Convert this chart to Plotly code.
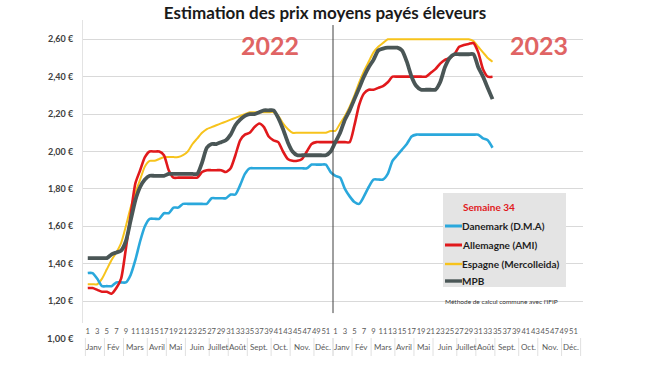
import plotly.graph_objects as go

# ---------------- data ----------------
semaines = list(range(1, 53))          # weeks of a year
mois = ["Janv", "Fév", "Mars", "Avril", "Mai", "Juin", "Juillet", "Août",
        "Sept.", "Oct.", "Nov.", "Déc."]
mois_premiere_semaine = [1, 5, 9, 14, 18, 22, 27, 31, 35, 40, 44, 49]
annees = ["2022", "2023"]

danemark_2022 = [1.35, 1.35, 1.32, 1.28, 1.28, 1.28, 1.30, 1.30, 1.30, 1.34,
                 1.42, 1.52, 1.60, 1.64, 1.64, 1.64, 1.67, 1.67, 1.70, 1.70,
                 1.72, 1.72, 1.72, 1.72, 1.72, 1.72, 1.75, 1.75, 1.75, 1.75,
                 1.77, 1.77, 1.82, 1.88, 1.91, 1.91, 1.91, 1.91, 1.91, 1.91,
                 1.91, 1.91, 1.91, 1.91, 1.91, 1.91, 1.91, 1.93, 1.93, 1.93,
                 1.93, 1.89]
danemark_2023 = [1.87, 1.86, 1.80, 1.76, 1.73, 1.72, 1.76, 1.81, 1.85, 1.85,
                 1.85, 1.88, 1.95, 1.98, 2.01, 2.04, 2.08, 2.09, 2.09, 2.09,
                 2.09, 2.09, 2.09, 2.09, 2.09, 2.09, 2.09, 2.09, 2.09, 2.09,
                 2.09, 2.07, 2.06, 2.02]

allemagne_2022 = [1.27, 1.27, 1.26, 1.25, 1.25, 1.24, 1.27, 1.32, 1.48, 1.66,
                  1.83, 1.90, 1.97, 2.00, 2.00, 2.00, 1.98, 1.90, 1.86, 1.86,
                  1.86, 1.86, 1.86, 1.86, 1.89, 1.90, 1.90, 1.90, 1.90, 1.89,
                  1.91, 1.98, 2.06, 2.09, 2.10, 2.13, 2.15, 2.13, 2.08, 2.06,
                  2.05, 2.00, 1.96, 1.95, 1.95, 1.96, 2.00, 2.04, 2.05, 2.05,
                  2.05, 2.05]
allemagne_2023 = [2.05, 2.05, 2.05, 2.05, 2.14, 2.25, 2.31, 2.33, 2.33, 2.34,
                  2.35, 2.37, 2.40, 2.40, 2.40, 2.40, 2.40, 2.40, 2.40, 2.40,
                  2.42, 2.44, 2.47, 2.49, 2.50, 2.52, 2.56, 2.57, 2.575, 2.58,
                  2.53, 2.44, 2.40, 2.40]

espagne_2022 = [1.29, 1.29, 1.29, 1.32, 1.37, 1.42, 1.46, 1.51, 1.60, 1.70,
                1.78, 1.85, 1.92, 1.95, 1.95, 1.96, 1.97, 1.97, 1.97, 1.97,
                1.98, 2.00, 2.04, 2.07, 2.10, 2.12, 2.13, 2.14, 2.15, 2.16,
                2.17, 2.18, 2.19, 2.20, 2.21, 2.21, 2.21, 2.21, 2.21, 2.21,
                2.19, 2.15, 2.12, 2.10, 2.10, 2.10, 2.10, 2.10, 2.10, 2.10,
                2.10, 2.11]
espagne_2023 = [2.11, 2.15, 2.19, 2.24, 2.30, 2.37, 2.43, 2.48, 2.53, 2.56,
                2.58, 2.60, 2.60, 2.60, 2.60, 2.60, 2.60, 2.60, 2.60, 2.60,
                2.60, 2.60, 2.60, 2.60, 2.60, 2.60, 2.60, 2.60, 2.60, 2.59,
                2.56, 2.53, 2.50, 2.48]

mpb_2022 = [1.43, 1.43, 1.43, 1.43, 1.43, 1.45, 1.46, 1.47, 1.52, 1.63,
            1.74, 1.81, 1.85, 1.87, 1.87, 1.87, 1.87, 1.88, 1.88, 1.88,
            1.88, 1.88, 1.88, 1.88, 1.94, 2.02, 2.04, 2.04, 2.05, 2.06,
            2.09, 2.14, 2.17, 2.19, 2.20, 2.20, 2.21, 2.22, 2.22, 2.22,
            2.18, 2.12, 2.05, 2.00, 1.98, 1.98, 1.98, 1.98, 1.98, 1.98,
            1.98, 2.00]
mpb_2023 = [2.05, 2.10, 2.17, 2.22, 2.28, 2.34, 2.40, 2.45, 2.49, 2.54,
            2.55, 2.555, 2.555, 2.555, 2.54, 2.48, 2.40, 2.35, 2.33, 2.33,
            2.33, 2.33, 2.37, 2.45, 2.50, 2.52, 2.52, 2.52, 2.52, 2.52,
            2.45, 2.40, 2.34, 2.28]

y_ticks = [1.20, 1.40, 1.60, 1.80, 2.00, 2.20, 2.40, 2.60]
legende_titre = "Semaine 34"

# ---------------- build ----------------
n_sem = len(semaines)
# (name, values, colour, width, legend row)
series = [
    ("Espagne (Mercolleida)", espagne_2022 + espagne_2023, "#f7c31c", 2.0, 2),
    ("Danemark (D.M.A)", danemark_2022 + danemark_2023, "#2aa8dc", 2.6, 0),
    ("Allemagne (AMI)", allemagne_2022 + allemagne_2023, "#e1191c", 2.6, 1),
    ("MPB", mpb_2022 + mpb_2023, "#4a5656", 3.8, 3),
]

W, H = 650, 366
L, R, T, B = 83, 67, 20, 43
PW, PH = W - L - R, H - T - B


def px(xp):   # pixel x -> paper
    return (xp - L) / PW


def py(yp):   # pixel y -> paper
    return (H - B - yp) / PH


fig = go.Figure()
for name, vals, color, width, row in series:
    fig.add_trace(go.Scatter(
        x=list(range(1, len(vals) + 1)), y=vals, name=name, mode="lines",
        line=dict(color=color, width=width, shape="spline", smoothing=0.6),
        showlegend=False, hoverinfo="skip"))

total = 2 * n_sem
tickvals, ticktext = [], []
for k in range(total):
    wk = semaines[k % n_sem]
    if wk % 2 == 1:
        tickvals.append(k + 1)
        ticktext.append(str(wk))

ytext = [("%.2f" % v).replace(".", ",") + " €" for v in y_ticks]

fig.update_layout(
    width=W, height=H,
    margin=dict(l=L, r=R, t=T, b=B),
    paper_bgcolor="white", plot_bgcolor="white",
    font=dict(family="Lato", color="#404040"),
    title=dict(text="Estimation des prix moyens payés éleveurs",
               x=0.5, xanchor="center", y=1 - 13 / H, yanchor="middle",
               font=dict(size=17, color="#1a1a1a", family="Lato", weight="bold")),
    xaxis=dict(range=[0, 105], showgrid=False, zeroline=False,
               tickvals=tickvals, ticktext=ticktext, tickangle=0,
               tickfont=dict(size=7.6, color="#595959"), ticks="",
               ticklabelstandoff=2, showline=False),
    yaxis=dict(range=[1.083, 2.703], tickvals=y_ticks, ticktext=ytext,
               showgrid=True, gridcolor="#d9d9d9", gridwidth=1, zeroline=False,
               tickfont=dict(size=9, color="#404040", weight="bold"),
               ticks="", ticklabelstandoff=7,
               showline=True, linecolor="#e3e3e3", linewidth=1),
    showlegend=False,
)

# separation line between the two years
fig.add_shape(type="line", xref="x", yref="y", x0=n_sem + 0.5, x1=n_sem + 0.5,
              y0=1.136, y1=2.676, line=dict(color="#404040", width=1))

# year labels
for xi, yr in zip([39.3, 95.8], annees):
    fig.add_annotation(xref="x", yref="paper", x=xi, y=py(45),
                       text="<b>%s</b>" % yr, showarrow=False,
                       font=dict(size=25, color="#e06464", family="Lato"),
                       xanchor="center", yanchor="middle")

# month labels & separators
bounds = mois_premiere_semaine + [n_sem + 1]
for yi in range(2):
    off = yi * n_sem
    for m, lab in enumerate(mois):
        a, b = bounds[m] - 0.5 + off, bounds[m + 1] - 0.5 + off
        fig.add_annotation(xref="x", yref="paper", x=(a + b) / 2,
                           y=py(347), text=lab, showarrow=False,
                           font=dict(size=8, color="#595959"),
                           xanchor="center", yanchor="middle")
        fig.add_shape(type="line", xref="x", yref="paper", x0=a, x1=a,
                      y0=py(338), y1=py(356),
                      line=dict(color="#e0e0e0", width=1))
    end = bounds[-1] - 0.5 + off
    fig.add_shape(type="line", xref="x", yref="paper", x0=end, x1=end,
                  y0=py(338), y1=py(356),
                  line=dict(color="#e0e0e0", width=1))

# 1,00 € label
fig.add_annotation(xref="paper", yref="paper", x=0, xshift=-7,
                   y=py(338), text="1,00 €", showarrow=False,
                   font=dict(size=9.5, color="#404040", weight="bold"),
                   xanchor="right", yanchor="middle")

# legend box (manual)
fig.add_shape(type="rect", xref="paper", yref="paper",
              x0=px(443), x1=px(566), y0=py(287), y1=py(193),
              fillcolor="#e4e4e4", line=dict(width=0), layer="above")
fig.add_annotation(xref="paper", yref="paper", x=px(461), y=py(207),
                   text=legende_titre, showarrow=False,
                   font=dict(size=10, color="#e1191c", weight="bold"),
                   xanchor="left", yanchor="middle")
rows_y = [226, 245, 264, 281]
for name, vals, color, width, row in series:
    yy = py(rows_y[row])
    fig.add_shape(type="line", xref="paper", yref="paper",
                  x0=px(445), x1=px(462), y0=yy, y1=yy,
                  line=dict(color=color, width=min(width + 0.4, 3.4)), layer="above")
    fig.add_annotation(xref="paper", yref="paper", x=px(460), y=yy,
                       text=name, showarrow=False,
                       font=dict(size=10, color="#1e1e1e", weight="bold"),
                       xanchor="left", yanchor="middle")

# note
fig.add_annotation(xref="paper", yref="paper", x=px(443),
                   y=py(301), text="Méthode de calcul commune avec l'IFIP",
                   showarrow=False, font=dict(size=6.5, color="#333333"),
                   xanchor="left", yanchor="middle")

fig.write_html("out.html", config={"displayModeBar": False},
               post_script="document.body.style.margin='0px';")
